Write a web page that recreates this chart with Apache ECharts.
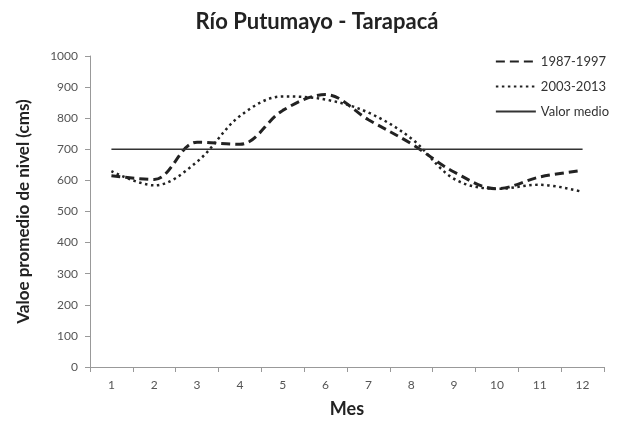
<!DOCTYPE html>
<html>
<head>
<meta charset="utf-8">
<script src="https://cdn.jsdelivr.net/npm/echarts@6/dist/echarts.min.js"></script>
<style>
  html, body { margin: 0; padding: 0; background: #fff; }
  #chart { width: 634px; height: 423px; }
</style>
</head>
<body>
<div id="chart"></div>
<script>
// Monthly average river level, Putumayo at Tarapacá
const months = ['1', '2', '3', '4', '5', '6', '7', '8', '9', '10', '11', '12'];
const period1987 = [615, 603, 723, 716, 825, 876, 795, 718, 627, 573, 611, 632];
const period2003 = [630, 584, 660, 807, 870, 860, 818, 735, 605, 573, 586, 563];
const meanLevel = [700, 700, 700, 700, 700, 700, 700, 700, 700, 700, 700, 700];
const yTicks = { min: 0, max: 1000, interval: 100 };

const font = 'Lato, "Open Sans", sans-serif';
const chart = echarts.init(document.getElementById('chart'));
chart.setOption({
  animation: false,
  backgroundColor: '#fff',
  title: {
    text: 'Río Putumayo - Tarapacá',
    left: 'center',
    top: 6,
    textStyle: { fontFamily: font, fontSize: 22, fontWeight: 'bold', color: '#222' }
  },
  legend: {
    orient: 'vertical',
    right: 20,
    top: 50,
    itemWidth: 40,
    itemHeight: 10,
    itemGap: 12,
    itemStyle: { opacity: 0 },
    textStyle: { fontFamily: font, fontSize: 13, color: '#333' },
    data: ['1987-1997', '2003-2013', 'Valor medio']
  },
  grid: { left: 90, right: 30, top: 56, bottom: 53, containLabel: false },
  xAxis: {
    type: 'category',
    data: months,
    name: 'Mes',
    nameLocation: 'middle',
    nameGap: 33,
    nameTextStyle: { fontFamily: font, fontSize: 18, fontWeight: 'bold', color: '#222' },
    axisLine: { lineStyle: { color: '#999', width: 1 } },
    axisTick: { show: true, alignWithLabel: false, length: 5, lineStyle: { color: '#999' } },
    axisLabel: { fontFamily: font, fontSize: 12, color: '#555', margin: 12 },
    splitLine: { show: false }
  },
  yAxis: {
    type: 'value',
    min: yTicks.min,
    max: yTicks.max,
    interval: yTicks.interval,
    name: 'Valoe promedio de nivel (cms)',
    nameLocation: 'middle',
    nameGap: 58,
    nameTextStyle: { fontFamily: font, fontSize: 17, fontWeight: 'bold', color: '#222' },
    axisLine: { show: true, lineStyle: { color: '#999', width: 1 } },
    axisTick: { show: true, length: 5, lineStyle: { color: '#999' } },
    axisLabel: { fontFamily: font, fontSize: 12, color: '#555', margin: 12, formatter: v => String(v) },
    splitLine: { show: false }
  },
  series: [
    {
      name: '1987-1997',
      type: 'line',
      data: period1987,
      smooth: 0.35,
      symbol: 'none',
      lineStyle: { color: '#222', width: 3, type: [9, 5] },
      itemStyle: { color: '#222' }
    },
    {
      name: '2003-2013',
      type: 'line',
      data: period2003,
      smooth: 0.35,
      symbol: 'none',
      lineStyle: { color: '#222', width: 2.5, type: [2.5, 3.5] },
      itemStyle: { color: '#222' }
    },
    {
      name: 'Valor medio',
      type: 'line',
      data: meanLevel,
      symbol: 'none',
      lineStyle: { color: '#333', width: 1.5, type: 'solid' },
      itemStyle: { color: '#333' }
    }
  ]
});
</script>
</body>
</html>
